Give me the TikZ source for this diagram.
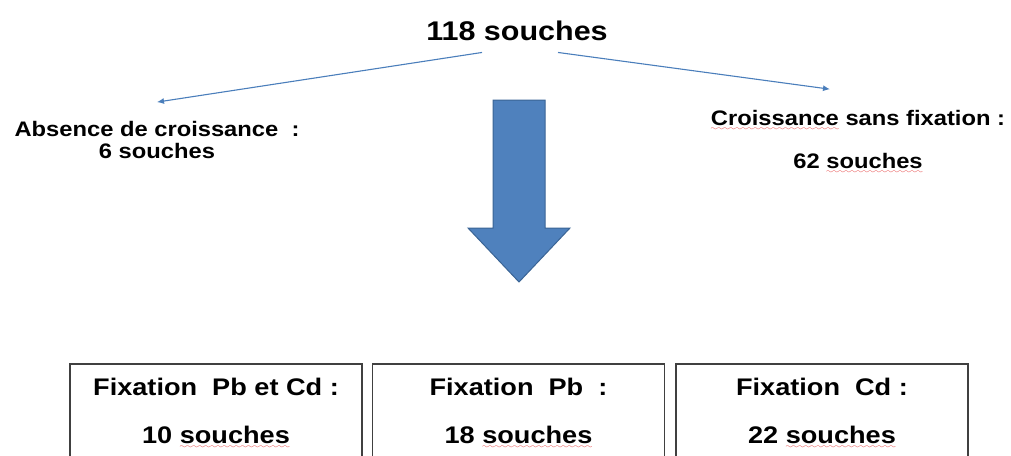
\documentclass[tikz,border=0pt]{standalone}
\usepackage{fontspec}
\setmainfont[FakeStretch=1.13]{Liberation Sans}
\usetikzlibrary{positioning,arrows.meta}
\definecolor{arrowblue}{HTML}{4A7EBB}
\definecolor{bigblue}{HTML}{4F81BD}
\definecolor{bigedge}{HTML}{3A6495}
\definecolor{boxgrey}{HTML}{404040}
\definecolor{wavered}{HTML}{E02020}
\font\wavefont=lasy6 at 7pt
\newsavebox{\wavebox}
\newcommand{\spellwave}[1]{\sbox{\wavebox}{#1}\rlap{\lower5pt\hbox to\wd\wavebox{\color{wavered}\xleaders\hbox{\wavefont\char58}\hfill}}\usebox{\wavebox}}

\begin{document}
\begin{tikzpicture}[x=1pt,y=1pt]
  \tikzstyle{every node}+=[inner sep=0pt, font=\bfseries]
  \tikzstyle{thin arrow}=[draw=arrowblue, line width=1.1pt, -{Latex[length=7pt,width=6pt]}]
  \tikzstyle{side label}=[align=center, font=\fontsize{21}{22}\selectfont\bfseries]
  \tikzstyle{result box}=[draw=boxgrey, line width=1.5pt, minimum width=292pt, align=center, anchor=north, inner xsep=0pt, inner ysep=14pt, font=\fontsize{24}{29}\selectfont\bfseries]
  \clip (0,0) rectangle (1011,-455);
  % top
  \node (total) [anchor=base, font=\fontsize{27}{32}\selectfont\bfseries] at (517,-40) {118 souches};
  \node (absence) [side label] at (157,-140) {Absence de croissance\ \ :\\6 souches};
  \node (growth) [side label, font=\fontsize{21}{25}\selectfont\bfseries] at (858,-142) {\spellwave{Croissance} sans fixation :\\[18pt]62 \spellwave{souches}};
  \coordinate (splitL) at ([xshift=-35pt,yshift=-12pt]total.south);
  \coordinate (splitR) at ([xshift=41pt,yshift=-12pt]total.south);
  \draw [thin arrow] (splitL) -- ([yshift=19pt]absence.north);
  \draw [thin arrow] (splitR) -- ([xshift=-28pt,yshift=21pt]growth.north);
  % big arrow
  \filldraw [fill=bigblue, draw=bigedge, line width=1pt] (493,-100) -- (545,-100) -- (545,-228) -- (570,-228) -- (519,-282) -- (468,-228) -- (493,-228) -- cycle;
  % boxes
  \node (pbcd) [result box] at (216,-363) {Fixation\ \ Pb et Cd :\\[19pt]10 \spellwave{souches}};
  \node (pb) [result box, right=9pt of pbcd] {Fixation\ \ Pb\ \ :\\[19pt]18 \spellwave{souches}};
  \node (cd) [result box, right=10pt of pb] {Fixation\ \ Cd :\\[19pt]22 \spellwave{souches}};
\end{tikzpicture}
\end{document}
